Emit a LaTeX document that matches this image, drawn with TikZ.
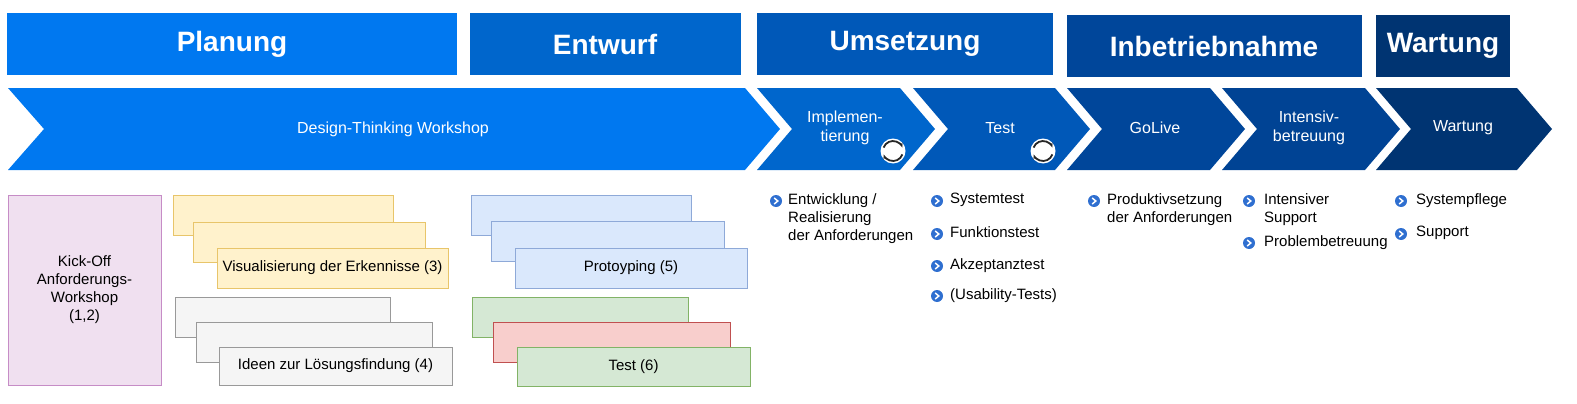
\documentclass[tikz,border=0pt]{standalone}
\usepackage{fontspec}
\setmainfont{Liberation Sans}
\usetikzlibrary{arrows.meta}
\begin{document}
\begin{tikzpicture}[x=1pt,y=-1pt,
 hdr/.style={inner sep=0,text=white,font=\fontsize{28}{30}\selectfont\bfseries},
 chev/.style={text=white,font=\fontsize{16}{19}\selectfont,align=center},
 card/.style={draw,line width=0.8pt},
 lbl/.style={font=\fontsize{15}{18}\selectfont,align=center},
 bl/.style={font=\fontsize{15}{18}\selectfont,align=left,anchor=north west,inner sep=0}]
\definecolor{c1}{HTML}{0078F0}\definecolor{c2}{HTML}{0066CC}
\definecolor{c3}{HTML}{0058B8}\definecolor{c4}{HTML}{00469A}\definecolor{c5}{HTML}{003472}
\definecolor{bulc}{HTML}{2F6FD0}
\useasboundingbox (0,0) rectangle (1577,404);
% headers
\fill[c1] (7,13) rectangle (457,75); \node[hdr] (h1) at (232,44) {Planung};
\fill[c2] (470,13) rectangle (741,75); \node[hdr] (h2) at (605,44) {Entwurf};
\fill[c3] (757,13) rectangle (1053,75); \node[hdr] (h3) at (905,44) {Umsetzung};
\fill[c4] (1067,15) rectangle (1362,77); \node[hdr] (h4) at (1214,46) {Inbetriebnahme};
\fill[c5] (1376,15) rectangle (1510,77); \node[hdr] (h5) at (1443,46) {Wartung};
% chevrons
\fill[c1] (8,88) -- (745,88) -- (780,129) -- (745,170) -- (8,170) -- (44,129) -- cycle;
\node[chev] (d) at (393,129) {Design-Thinking Workshop};
\fill[c2] (757,88) -- (900,88) -- (935,129) -- (900,170) -- (757,170) -- (792,129) -- cycle;
\node[chev] (i) at (845,128) {Implemen-\\tierung};
\fill[c3] (913,88) -- (1055,88) -- (1090,129) -- (1055,170) -- (913,170) -- (948,129) -- cycle;
\node[chev] (t) at (1000,128) {Test};
\fill[c4] (1067,88) -- (1210,88) -- (1245,129) -- (1210,170) -- (1067,170) -- (1102,129) -- cycle;
\node[chev] (g) at (1155,128) {GoLive};
\fill[c4!85!c5] (1222,88) -- (1365,88) -- (1400,129) -- (1365,170) -- (1222,170) -- (1257,129) -- cycle;
\node[chev] (ib) at (1309,128) {Intensiv-\\betreuung};
\fill[c5] (1376,88) -- (1517,88) -- (1552,129) -- (1517,170) -- (1376,170) -- (1411,129) -- cycle;
\node[chev] (w) at (1463,128) {Wartung};
% cycle icons
\foreach \n/\cx in {cy1/893,cy2/1043}{
 \coordinate (\n) at (\cx,151);
 \fill[white] (\n) circle (12.5);
 \draw[black!85,line width=1.8pt,-{Stealth[length=5pt]}] ([shift={(20:10)}]\n) arc (20:160:10);
 \draw[black!85,line width=1.8pt,-{Stealth[length=5pt]}] ([shift={(200:10)}]\n) arc (200:340:10);
}
% lower cards
\node[card,draw=violet!45,fill=violet!12,minimum width=153,minimum height=190,lbl] (k) at (84.5,290) {Kick-Off\\Anforderungs-\\Workshop\\(1,2)};
\definecolor{yf}{HTML}{FFF2CC}\definecolor{yd}{HTML}{E8C56A}
\definecolor{bf}{HTML}{DAE8FC}\definecolor{bd}{HTML}{8EA9D8}
\definecolor{gf}{HTML}{D5E8D4}\definecolor{gd}{HTML}{82B366}
\definecolor{rf}{HTML}{F8CECC}\definecolor{rd}{HTML}{C05050}
\tikzset{yc/.style={card,draw=yd,fill=yf}}
\draw[yc] (173,195) rectangle (393,235);
\draw[yc] (193,222) rectangle (425,262);
\node[yc,minimum width=231,minimum height=40,lbl] (v) at (332.5,268) {Visualisierung der Erkennisse (3)};
\tikzset{gc/.style={card,draw=gray!80,fill=gray!8}}
\draw[gc] (175,297) rectangle (390,337);
\draw[gc] (196,322) rectangle (432,362);
\node[gc,minimum width=233,minimum height=38,lbl] (l) at (335.5,366) {Ideen zur Lösungsfindung (4)};
\tikzset{bc/.style={card,draw=bd,fill=bf}}
\draw[bc] (471,195) rectangle (691,235);
\draw[bc] (491,221) rectangle (724,261);
\node[bc,minimum width=232,minimum height=40,lbl] (p) at (631,268) {Protoyping (5)};
\draw[card,draw=gd,fill=gf] (472,297) rectangle (688,337);
\draw[card,draw=rd,fill=rf] (493,322) rectangle (730,362);
\node[card,draw=gd,fill=gf,minimum width=233,minimum height=39,lbl] (ts) at (633.5,366.5) {Test (6)};
% bullets
\newcommand{\bul}[2]{\fill[bulc] (#1,#2) circle (6); \draw[white,line width=1.5pt] (#1-1.8,#2-3)--(#1+1.8,#2)--(#1-1.8,#2+3);}
\bul{776}{201}\node[bl] (b1) at (788,193) {Entwicklung /\\Realisierung\\der Anforderungen};
\bul{937}{201}\node[bl] (b2) at (950,193) {Systemtest};
\bul{937}{234}\node[bl] (b3) at (950,226) {Funktionstest};
\bul{937}{266}\node[bl] (b4) at (950,258) {Akzeptanztest};
\bul{937}{296}\node[bl] (b5) at (950,288) {(Usability-Tests)};
\bul{1094}{201}\node[bl] (b6) at (1107,193) {Produktivsetzung\\der Anforderungen};
\bul{1249}{201}\node[bl] (b7) at (1264,193) {Intensiver\\Support};
\bul{1249}{243}\node[bl] (b8) at (1264,235) {Problembetreuung};
\bul{1401}{201}\node[bl] (b9) at (1416,193) {Systempflege};
\bul{1401}{234}\node[bl] (b10) at (1416,226) {Support};
\end{tikzpicture}
\end{document}
